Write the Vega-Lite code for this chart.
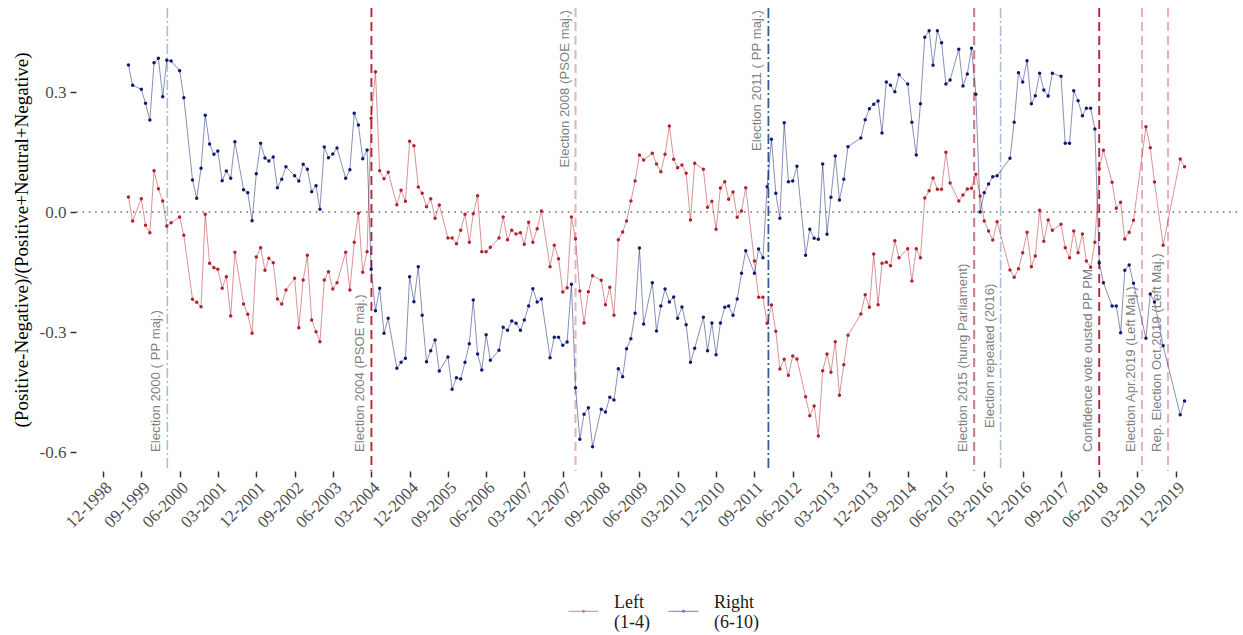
{
"$schema": "https://vega.github.io/schema/vega-lite/v6.json",
"width": 1161,
"height": 463,
"autosize": {"type": "none"},
"padding": {"left": 76, "top": 8, "right": 6, "bottom": 164},
"background": "white",
"config": {"view": {"stroke": null}, "font": "Liberation Serif"},
"datasets": {
"events": [
{"date": "2000-03-05", "label": "Election 2000  ( PP  maj.)", "style": "ppLight", "pos": "bottom"},
{"date": "2004-03-03", "label": "Election 2004 (PSOE maj.)", "style": "psoeDark", "pos": "bottom"},
{"date": "2008-03-01", "label": "Election 2008  (PSOE maj.)", "style": "psoeLight", "pos": "top"},
{"date": "2011-12-10", "label": "Election 2011  ( PP  maj.)", "style": "ppDark", "pos": "top"},
{"date": "2015-12-20", "label": "Election 2015 (hung Parliament)", "style": "hung", "pos": "bottom"},
{"date": "2016-06-26", "label": "Election repeated (2016)", "style": "ppLight", "pos": "mid"},
{"date": "2018-06-01", "label": "Confidence vote ousted PP PM", "style": "psoeDark", "pos": "bottom"},
{"date": "2019-04-03", "label": "Election Apr.2019 (Left Maj.)", "style": "psoeLight", "pos": "bottom"},
{"date": "2019-10-06", "label": "Rep. Election Oct.2019 (Left Maj.)", "style": "psoeLight", "pos": "bottom"}
],
"sent": [
{"date":"1999-06-01","party":"Left","value":0.0375},{"date":"1999-06-01","party":"Right","value":0.3675},
{"date":"1999-07-01","party":"Left","value":-0.0225},{"date":"1999-07-01","party":"Right","value":0.3167},
{"date":"1999-09-01","party":"Left","value":0.0333},{"date":"1999-09-01","party":"Right","value":0.3067},
{"date":"1999-10-01","party":"Left","value":-0.0333},{"date":"1999-10-01","party":"Right","value":0.2717},
{"date":"1999-11-01","party":"Left","value":-0.0517},{"date":"1999-11-01","party":"Right","value":0.23},
{"date":"1999-12-01","party":"Left","value":0.1033},{"date":"1999-12-01","party":"Right","value":0.3733},
{"date":"2000-01-01","party":"Left","value":0.0583},{"date":"2000-01-01","party":"Right","value":0.3842},
{"date":"2000-02-01","party":"Left","value":0.0275},{"date":"2000-02-01","party":"Right","value":0.2883},
{"date":"2000-03-01","party":"Left","value":-0.035},{"date":"2000-03-01","party":"Right","value":0.3792},
{"date":"2000-04-01","party":"Left","value":-0.0267},{"date":"2000-04-01","party":"Right","value":0.3775},
{"date":"2000-06-01","party":"Left","value":-0.0125},{"date":"2000-06-01","party":"Right","value":0.3533},
{"date":"2000-07-01","party":"Left","value":-0.0583},{"date":"2000-07-01","party":"Right","value":0.2858},
{"date":"2000-09-01","party":"Left","value":-0.2183},{"date":"2000-09-01","party":"Right","value":0.08},
{"date":"2000-10-01","party":"Left","value":-0.2258},{"date":"2000-10-01","party":"Right","value":0.0342},
{"date":"2000-11-01","party":"Left","value":-0.2367},{"date":"2000-11-01","party":"Right","value":0.1092},
{"date":"2000-12-01","party":"Left","value":-0.0058},{"date":"2000-12-01","party":"Right","value":0.2417},
{"date":"2001-01-01","party":"Left","value":-0.1283},{"date":"2001-01-01","party":"Right","value":0.17},
{"date":"2001-02-01","party":"Left","value":-0.1392},{"date":"2001-02-01","party":"Right","value":0.1442},
{"date":"2001-03-01","party":"Left","value":-0.1433},{"date":"2001-03-01","party":"Right","value":0.1525},
{"date":"2001-04-01","party":"Left","value":-0.1908},{"date":"2001-04-01","party":"Right","value":0.0783},
{"date":"2001-05-01","party":"Left","value":-0.1617},{"date":"2001-05-01","party":"Right","value":0.1025},
{"date":"2001-06-01","party":"Left","value":-0.26},{"date":"2001-06-01","party":"Right","value":0.0842},
{"date":"2001-07-01","party":"Left","value":-0.1008},{"date":"2001-07-01","party":"Right","value":0.1758},
{"date":"2001-09-01","party":"Left","value":-0.23},{"date":"2001-09-01","party":"Right","value":0.0558},
{"date":"2001-10-01","party":"Left","value":-0.2558},{"date":"2001-10-01","party":"Right","value":0.0483},
{"date":"2001-11-01","party":"Left","value":-0.3033},{"date":"2001-11-01","party":"Right","value":-0.0217},
{"date":"2001-12-01","party":"Left","value":-0.1125},{"date":"2001-12-01","party":"Right","value":0.0958},
{"date":"2002-01-01","party":"Left","value":-0.0892},{"date":"2002-01-01","party":"Right","value":0.1717},
{"date":"2002-02-01","party":"Left","value":-0.1458},{"date":"2002-02-01","party":"Right","value":0.135},
{"date":"2002-03-01","party":"Left","value":-0.1158},{"date":"2002-03-01","party":"Right","value":0.1275},
{"date":"2002-04-01","party":"Left","value":-0.1267},{"date":"2002-04-01","party":"Right","value":0.1375},
{"date":"2002-05-01","party":"Left","value":-0.2175},{"date":"2002-05-01","party":"Right","value":0.0608},
{"date":"2002-06-01","party":"Left","value":-0.23},{"date":"2002-06-01","party":"Right","value":0.0817},
{"date":"2002-07-01","party":"Left","value":-0.195},{"date":"2002-07-01","party":"Right","value":0.1133},
{"date":"2002-09-01","party":"Left","value":-0.1658},{"date":"2002-09-01","party":"Right","value":0.0908},
{"date":"2002-10-01","party":"Left","value":-0.2892},{"date":"2002-10-01","party":"Right","value":0.0775},
{"date":"2002-11-01","party":"Left","value":-0.17},{"date":"2002-11-01","party":"Right","value":0.1192},
{"date":"2002-12-01","party":"Left","value":-0.1083},{"date":"2002-12-01","party":"Right","value":0.1067},
{"date":"2003-01-01","party":"Left","value":-0.27},{"date":"2003-01-01","party":"Right","value":0.0508},
{"date":"2003-02-01","party":"Left","value":-0.2992},{"date":"2003-02-01","party":"Right","value":0.0658},
{"date":"2003-03-01","party":"Left","value":-0.3242},{"date":"2003-03-01","party":"Right","value":0.0067},
{"date":"2003-04-01","party":"Left","value":-0.17},{"date":"2003-04-01","party":"Right","value":0.1625},
{"date":"2003-05-01","party":"Left","value":-0.1492},{"date":"2003-05-01","party":"Right","value":0.1358},
{"date":"2003-06-01","party":"Left","value":-0.1925},{"date":"2003-06-01","party":"Right","value":0.145},
{"date":"2003-07-01","party":"Left","value":-0.1767},{"date":"2003-07-01","party":"Right","value":0.16},
{"date":"2003-09-01","party":"Left","value":-0.1008},{"date":"2003-09-01","party":"Right","value":0.0842},
{"date":"2003-10-01","party":"Left","value":-0.195},{"date":"2003-10-01","party":"Right","value":0.1058},
{"date":"2003-11-01","party":"Left","value":-0.0758},{"date":"2003-11-01","party":"Right","value":0.2467},
{"date":"2003-12-01","party":"Left","value":-0.0033},{"date":"2003-12-01","party":"Right","value":0.2175},
{"date":"2004-01-01","party":"Left","value":-0.1508},{"date":"2004-01-01","party":"Right","value":0.1333},
{"date":"2004-02-01","party":"Left","value":-0.0992},{"date":"2004-02-01","party":"Right","value":0.155},
{"date":"2004-03-01","party":"Left","value":0.2342},{"date":"2004-03-01","party":"Right","value":-0.1433},
{"date":"2004-04-01","party":"Left","value":0.3508},{"date":"2004-04-01","party":"Right","value":-0.2467},
{"date":"2004-05-01","party":"Left","value":0.1033},{"date":"2004-05-01","party":"Right","value":-0.1908},
{"date":"2004-06-01","party":"Left","value":0.0833},{"date":"2004-06-01","party":"Right","value":-0.3033},
{"date":"2004-07-01","party":"Left","value":0.0992},{"date":"2004-07-01","party":"Right","value":-0.2658},
{"date":"2004-09-01","party":"Left","value":0.0183},{"date":"2004-09-01","party":"Right","value":-0.3908},
{"date":"2004-10-01","party":"Left","value":0.0542},{"date":"2004-10-01","party":"Right","value":-0.3758},
{"date":"2004-11-01","party":"Left","value":0.0267},{"date":"2004-11-01","party":"Right","value":-0.3658},
{"date":"2004-12-01","party":"Left","value":0.1767},{"date":"2004-12-01","party":"Right","value":-0.1617},
{"date":"2005-01-01","party":"Left","value":0.1658},{"date":"2005-01-01","party":"Right","value":-0.2242},
{"date":"2005-02-01","party":"Left","value":0.0625},{"date":"2005-02-01","party":"Right","value":-0.1367},
{"date":"2005-03-01","party":"Left","value":0.0467},{"date":"2005-03-01","party":"Right","value":-0.2583},
{"date":"2005-04-01","party":"Left","value":0.0133},{"date":"2005-04-01","party":"Right","value":-0.3742},
{"date":"2005-05-01","party":"Left","value":0.0333},{"date":"2005-05-01","party":"Right","value":-0.3467},
{"date":"2005-06-01","party":"Left","value":-0.0158},{"date":"2005-06-01","party":"Right","value":-0.32},
{"date":"2005-07-01","party":"Left","value":0.0175},{"date":"2005-07-01","party":"Right","value":-0.3975},
{"date":"2005-09-01","party":"Left","value":-0.065},{"date":"2005-09-01","party":"Right","value":-0.3625},
{"date":"2005-10-01","party":"Left","value":-0.065},{"date":"2005-10-01","party":"Right","value":-0.4433},
{"date":"2005-11-01","party":"Left","value":-0.0792},{"date":"2005-11-01","party":"Right","value":-0.4142},
{"date":"2005-12-01","party":"Left","value":-0.0458},{"date":"2005-12-01","party":"Right","value":-0.4175},
{"date":"2006-01-01","party":"Left","value":-0.0058},{"date":"2006-01-01","party":"Right","value":-0.3758},
{"date":"2006-02-01","party":"Left","value":-0.0758},{"date":"2006-02-01","party":"Right","value":-0.3292},
{"date":"2006-03-01","party":"Left","value":-0.0042},{"date":"2006-03-01","party":"Right","value":-0.22},
{"date":"2006-04-01","party":"Left","value":0.0408},{"date":"2006-04-01","party":"Right","value":-0.355},
{"date":"2006-05-01","party":"Left","value":-0.0992},{"date":"2006-05-01","party":"Right","value":-0.395},
{"date":"2006-06-01","party":"Left","value":-0.0992},{"date":"2006-06-01","party":"Right","value":-0.3067},
{"date":"2006-07-01","party":"Left","value":-0.0883},{"date":"2006-07-01","party":"Right","value":-0.3708},
{"date":"2006-09-01","party":"Left","value":-0.065},{"date":"2006-09-01","party":"Right","value":-0.3458},
{"date":"2006-10-01","party":"Left","value":-0.0125},{"date":"2006-10-01","party":"Right","value":-0.2883},
{"date":"2006-11-01","party":"Left","value":-0.0692},{"date":"2006-11-01","party":"Right","value":-0.2958},
{"date":"2006-12-01","party":"Left","value":-0.0458},{"date":"2006-12-01","party":"Right","value":-0.2725},
{"date":"2007-01-01","party":"Left","value":-0.055},{"date":"2007-01-01","party":"Right","value":-0.2783},
{"date":"2007-02-01","party":"Left","value":-0.0517},{"date":"2007-02-01","party":"Right","value":-0.2958},
{"date":"2007-03-01","party":"Left","value":-0.0808},{"date":"2007-03-01","party":"Right","value":-0.27},
{"date":"2007-04-01","party":"Left","value":-0.0258},{"date":"2007-04-01","party":"Right","value":-0.235},
{"date":"2007-05-01","party":"Left","value":-0.0758},{"date":"2007-05-01","party":"Right","value":-0.1917},
{"date":"2007-06-01","party":"Left","value":-0.0417},{"date":"2007-06-01","party":"Right","value":-0.225},
{"date":"2007-07-01","party":"Left","value":0.0025},{"date":"2007-07-01","party":"Right","value":-0.2175},
{"date":"2007-09-01","party":"Left","value":-0.1367},{"date":"2007-09-01","party":"Right","value":-0.3642},
{"date":"2007-10-01","party":"Left","value":-0.0833},{"date":"2007-10-01","party":"Right","value":-0.3133},
{"date":"2007-11-01","party":"Left","value":-0.1167},{"date":"2007-11-01","party":"Right","value":-0.3133},
{"date":"2007-12-01","party":"Left","value":-0.2},{"date":"2007-12-01","party":"Right","value":-0.3333},
{"date":"2008-01-01","party":"Left","value":-0.1892},{"date":"2008-01-01","party":"Right","value":-0.325},
{"date":"2008-02-01","party":"Left","value":-0.0125},{"date":"2008-02-01","party":"Right","value":-0.1808},
{"date":"2008-03-01","party":"Left","value":-0.0667},{"date":"2008-03-01","party":"Right","value":-0.4392},
{"date":"2008-04-01","party":"Left","value":-0.1975},{"date":"2008-04-01","party":"Right","value":-0.5683},
{"date":"2008-05-01","party":"Left","value":-0.2775},{"date":"2008-05-01","party":"Right","value":-0.5058},
{"date":"2008-06-01","party":"Left","value":-0.1992},{"date":"2008-06-01","party":"Right","value":-0.4892},
{"date":"2008-07-01","party":"Left","value":-0.1592},{"date":"2008-07-01","party":"Right","value":-0.5867},
{"date":"2008-09-01","party":"Left","value":-0.1708},{"date":"2008-09-01","party":"Right","value":-0.4933},
{"date":"2008-10-01","party":"Left","value":-0.2317},{"date":"2008-10-01","party":"Right","value":-0.5},
{"date":"2008-11-01","party":"Left","value":-0.1883},{"date":"2008-11-01","party":"Right","value":-0.4633},
{"date":"2008-12-01","party":"Left","value":-0.2583},{"date":"2008-12-01","party":"Right","value":-0.47},
{"date":"2009-01-01","party":"Left","value":-0.0692},{"date":"2009-01-01","party":"Right","value":-0.3917},
{"date":"2009-02-01","party":"Left","value":-0.05},{"date":"2009-02-01","party":"Right","value":-0.4117},
{"date":"2009-03-01","party":"Left","value":-0.0225},{"date":"2009-03-01","party":"Right","value":-0.3417},
{"date":"2009-04-01","party":"Left","value":0.0275},{"date":"2009-04-01","party":"Right","value":-0.3167},
{"date":"2009-05-01","party":"Left","value":0.0775},{"date":"2009-05-01","party":"Right","value":-0.2533},
{"date":"2009-06-01","party":"Left","value":0.1425},{"date":"2009-06-01","party":"Right","value":-0.09},
{"date":"2009-07-01","party":"Left","value":0.13},{"date":"2009-07-01","party":"Right","value":-0.28},
{"date":"2009-09-01","party":"Left","value":0.1467},{"date":"2009-09-01","party":"Right","value":-0.1767},
{"date":"2009-10-01","party":"Left","value":0.12},{"date":"2009-10-01","party":"Right","value":-0.2975},
{"date":"2009-11-01","party":"Left","value":0.1008},{"date":"2009-11-01","party":"Right","value":-0.235},
{"date":"2009-12-01","party":"Left","value":0.1442},{"date":"2009-12-01","party":"Right","value":-0.1925},
{"date":"2010-01-01","party":"Left","value":0.215},{"date":"2010-01-01","party":"Right","value":-0.225},
{"date":"2010-02-01","party":"Left","value":0.1317},{"date":"2010-02-01","party":"Right","value":-0.2125},
{"date":"2010-03-01","party":"Left","value":0.1108},{"date":"2010-03-01","party":"Right","value":-0.2658},
{"date":"2010-04-01","party":"Left","value":0.1175},{"date":"2010-04-01","party":"Right","value":-0.2375},
{"date":"2010-05-01","party":"Left","value":0.0967},{"date":"2010-05-01","party":"Right","value":-0.2817},
{"date":"2010-06-01","party":"Left","value":-0.02},{"date":"2010-06-01","party":"Right","value":-0.3758},
{"date":"2010-07-01","party":"Left","value":0.1217},{"date":"2010-07-01","party":"Right","value":-0.3408},
{"date":"2010-09-01","party":"Left","value":0.1067},{"date":"2010-09-01","party":"Right","value":-0.2633},
{"date":"2010-10-01","party":"Left","value":0.0117},{"date":"2010-10-01","party":"Right","value":-0.3467},
{"date":"2010-11-01","party":"Left","value":0.0267},{"date":"2010-11-01","party":"Right","value":-0.2775},
{"date":"2010-12-01","party":"Left","value":-0.0433},{"date":"2010-12-01","party":"Right","value":-0.3567},
{"date":"2011-01-01","party":"Left","value":0.06},{"date":"2011-01-01","party":"Right","value":-0.2775},
{"date":"2011-02-01","party":"Left","value":0.0758},{"date":"2011-02-01","party":"Right","value":-0.2383},
{"date":"2011-03-01","party":"Left","value":0.0317},{"date":"2011-03-01","party":"Right","value":-0.235},
{"date":"2011-04-01","party":"Left","value":0.05},{"date":"2011-04-01","party":"Right","value":-0.2583},
{"date":"2011-05-01","party":"Left","value":-0.0133},{"date":"2011-05-01","party":"Right","value":-0.2175},
{"date":"2011-06-01","party":"Left","value":0.0025},{"date":"2011-06-01","party":"Right","value":-0.1533},
{"date":"2011-07-01","party":"Left","value":0.0608},{"date":"2011-07-01","party":"Right","value":-0.0967},
{"date":"2011-09-01","party":"Left","value":-0.1225},{"date":"2011-09-01","party":"Right","value":-0.1533},
{"date":"2011-10-01","party":"Left","value":-0.2133},{"date":"2011-10-01","party":"Right","value":-0.0925},
{"date":"2011-11-01","party":"Left","value":-0.2133},{"date":"2011-11-01","party":"Right","value":-0.1142},
{"date":"2011-12-01","party":"Left","value":-0.2783},{"date":"2011-12-01","party":"Right","value":0.0633},
{"date":"2012-01-01","party":"Left","value":-0.2325},{"date":"2012-01-01","party":"Right","value":0.1817},
{"date":"2012-02-01","party":"Left","value":-0.2983},{"date":"2012-02-01","party":"Right","value":0.0467},
{"date":"2012-03-01","party":"Left","value":-0.3925},{"date":"2012-03-01","party":"Right","value":-0.0158},
{"date":"2012-04-01","party":"Left","value":-0.3683},{"date":"2012-04-01","party":"Right","value":0.2233},
{"date":"2012-05-01","party":"Left","value":-0.4083},{"date":"2012-05-01","party":"Right","value":0.0758},
{"date":"2012-06-01","party":"Left","value":-0.36},{"date":"2012-06-01","party":"Right","value":0.0775},
{"date":"2012-07-01","party":"Left","value":-0.3675},{"date":"2012-07-01","party":"Right","value":0.1142},
{"date":"2012-09-01","party":"Left","value":-0.4617},{"date":"2012-09-01","party":"Right","value":-0.1083},
{"date":"2012-10-01","party":"Left","value":-0.5092},{"date":"2012-10-01","party":"Right","value":-0.0433},
{"date":"2012-11-01","party":"Left","value":-0.485},{"date":"2012-11-01","party":"Right","value":-0.0658},
{"date":"2012-12-01","party":"Left","value":-0.56},{"date":"2012-12-01","party":"Right","value":-0.0683},
{"date":"2013-01-01","party":"Left","value":-0.3967},{"date":"2013-01-01","party":"Right","value":0.12},
{"date":"2013-02-01","party":"Left","value":-0.355},{"date":"2013-02-01","party":"Right","value":-0.0558},
{"date":"2013-03-01","party":"Left","value":-0.4008},{"date":"2013-03-01","party":"Right","value":0.0367},
{"date":"2013-04-01","party":"Left","value":-0.3242},{"date":"2013-04-01","party":"Right","value":0.14},
{"date":"2013-05-01","party":"Left","value":-0.4583},{"date":"2013-05-01","party":"Right","value":0.03},
{"date":"2013-06-01","party":"Left","value":-0.3817},{"date":"2013-06-01","party":"Right","value":0.0817},
{"date":"2013-07-01","party":"Left","value":-0.3083},{"date":"2013-07-01","party":"Right","value":0.1633},
{"date":"2013-10-01","party":"Left","value":-0.255},{"date":"2013-10-01","party":"Right","value":0.185},
{"date":"2013-11-01","party":"Left","value":-0.2067},{"date":"2013-11-01","party":"Right","value":0.2308},
{"date":"2013-12-01","party":"Left","value":-0.2383},{"date":"2013-12-01","party":"Right","value":0.2583},
{"date":"2014-01-01","party":"Left","value":-0.105},{"date":"2014-01-01","party":"Right","value":0.2692},
{"date":"2014-02-01","party":"Left","value":-0.2317},{"date":"2014-02-01","party":"Right","value":0.2775},
{"date":"2014-03-01","party":"Left","value":-0.1283},{"date":"2014-03-01","party":"Right","value":0.1975},
{"date":"2014-04-01","party":"Left","value":-0.1258},{"date":"2014-04-01","party":"Right","value":0.325},
{"date":"2014-05-01","party":"Left","value":-0.1342},{"date":"2014-05-01","party":"Right","value":0.3167},
{"date":"2014-06-01","party":"Left","value":-0.0717},{"date":"2014-06-01","party":"Right","value":0.3008},
{"date":"2014-07-01","party":"Left","value":-0.1142},{"date":"2014-07-01","party":"Right","value":0.3433},
{"date":"2014-09-01","party":"Left","value":-0.0917},{"date":"2014-09-01","party":"Right","value":0.32},
{"date":"2014-10-01","party":"Left","value":-0.1725},{"date":"2014-10-01","party":"Right","value":0.2242},
{"date":"2014-11-01","party":"Left","value":-0.0917},{"date":"2014-11-01","party":"Right","value":0.1425},
{"date":"2014-12-01","party":"Left","value":-0.1142},{"date":"2014-12-01","party":"Right","value":0.2708},
{"date":"2015-01-01","party":"Left","value":0.035},{"date":"2015-01-01","party":"Right","value":0.4367},
{"date":"2015-02-01","party":"Left","value":0.0533},{"date":"2015-02-01","party":"Right","value":0.4533},
{"date":"2015-03-01","party":"Left","value":0.085},{"date":"2015-03-01","party":"Right","value":0.3667},
{"date":"2015-04-01","party":"Left","value":0.0567},{"date":"2015-04-01","party":"Right","value":0.4533},
{"date":"2015-05-01","party":"Left","value":0.0567},{"date":"2015-05-01","party":"Right","value":0.4233},
{"date":"2015-06-01","party":"Left","value":0.1492},{"date":"2015-06-01","party":"Right","value":0.32},
{"date":"2015-07-01","party":"Left","value":0.0725},{"date":"2015-07-01","party":"Right","value":0.33},
{"date":"2015-09-01","party":"Left","value":0.0275},{"date":"2015-09-01","party":"Right","value":0.4067},
{"date":"2015-10-01","party":"Left","value":0.0425},{"date":"2015-10-01","party":"Right","value":0.315},
{"date":"2015-11-01","party":"Left","value":0.0575},{"date":"2015-11-01","party":"Right","value":0.345},
{"date":"2015-12-01","party":"Left","value":0.0592},{"date":"2015-12-01","party":"Right","value":0.4092},
{"date":"2016-01-01","party":"Left","value":0.0942},{"date":"2016-01-01","party":"Right","value":0.2942},
{"date":"2016-02-01","party":"Left","value":0.04},{"date":"2016-02-01","party":"Right","value":0.0},
{"date":"2016-03-01","party":"Left","value":-0.0225},{"date":"2016-03-01","party":"Right","value":0.0483},
{"date":"2016-04-01","party":"Left","value":-0.0475},{"date":"2016-04-01","party":"Right","value":0.07},
{"date":"2016-05-01","party":"Left","value":-0.07},{"date":"2016-05-01","party":"Right","value":0.0883},
{"date":"2016-06-01","party":"Left","value":-0.0242},{"date":"2016-06-01","party":"Right","value":0.0908},
{"date":"2016-09-01","party":"Left","value":-0.145},{"date":"2016-09-01","party":"Right","value":0.1342},
{"date":"2016-10-01","party":"Left","value":-0.1633},{"date":"2016-10-01","party":"Right","value":0.2242},
{"date":"2016-11-01","party":"Left","value":-0.1417},{"date":"2016-11-01","party":"Right","value":0.3483},
{"date":"2016-12-01","party":"Left","value":-0.1017},{"date":"2016-12-01","party":"Right","value":0.325},
{"date":"2017-01-01","party":"Left","value":-0.0508},{"date":"2017-01-01","party":"Right","value":0.3783},
{"date":"2017-02-01","party":"Left","value":-0.1367},{"date":"2017-02-01","party":"Right","value":0.2708},
{"date":"2017-03-01","party":"Left","value":-0.11},{"date":"2017-03-01","party":"Right","value":0.2908},
{"date":"2017-04-01","party":"Left","value":0.0042},{"date":"2017-04-01","party":"Right","value":0.3467},
{"date":"2017-05-01","party":"Left","value":-0.0733},{"date":"2017-05-01","party":"Right","value":0.305},
{"date":"2017-06-01","party":"Left","value":-0.02},{"date":"2017-06-01","party":"Right","value":0.29},
{"date":"2017-07-01","party":"Left","value":-0.0458},{"date":"2017-07-01","party":"Right","value":0.3467},
{"date":"2017-09-01","party":"Left","value":-0.0308},{"date":"2017-09-01","party":"Right","value":0.3392},
{"date":"2017-10-01","party":"Left","value":-0.0892},{"date":"2017-10-01","party":"Right","value":0.1717},
{"date":"2017-11-01","party":"Left","value":-0.1142},{"date":"2017-11-01","party":"Right","value":0.1717},
{"date":"2017-12-01","party":"Left","value":-0.0475},{"date":"2017-12-01","party":"Right","value":0.3033},
{"date":"2018-01-01","party":"Left","value":-0.1017},{"date":"2018-01-01","party":"Right","value":0.2783},
{"date":"2018-02-01","party":"Left","value":-0.055},{"date":"2018-02-01","party":"Right","value":0.2408},
{"date":"2018-03-01","party":"Left","value":-0.1225},{"date":"2018-03-01","party":"Right","value":0.2592},
{"date":"2018-04-01","party":"Left","value":-0.1383},{"date":"2018-04-01","party":"Right","value":0.2592},
{"date":"2018-05-01","party":"Left","value":-0.0758},{"date":"2018-05-01","party":"Right","value":0.2075},
{"date":"2018-06-01","party":"Left","value":0.1083},{"date":"2018-06-01","party":"Right","value":-0.1267},
{"date":"2018-07-01","party":"Left","value":0.1542},{"date":"2018-07-01","party":"Right","value":-0.1767},
{"date":"2018-09-01","party":"Left","value":0.0742},{"date":"2018-09-01","party":"Right","value":-0.235},
{"date":"2018-10-01","party":"Left","value":0.0092},{"date":"2018-10-01","party":"Right","value":-0.235},
{"date":"2018-11-01","party":"Left","value":0.0242},{"date":"2018-11-01","party":"Right","value":-0.3017},
{"date":"2018-12-01","party":"Left","value":-0.0675},{"date":"2018-12-01","party":"Right","value":-0.1458},
{"date":"2019-01-01","party":"Left","value":-0.0508},{"date":"2019-01-01","party":"Right","value":-0.1325},
{"date":"2019-02-01","party":"Left","value":-0.0208},{"date":"2019-02-01","party":"Right","value":-0.1783},
{"date":"2019-05-01","party":"Left","value":0.2133},{"date":"2019-05-01","party":"Right","value":-0.3158},
{"date":"2019-06-01","party":"Left","value":0.1608},{"date":"2019-06-01","party":"Right","value":-0.205},
{"date":"2019-07-01","party":"Left","value":0.075},{"date":"2019-07-01","party":"Right","value":-0.225},
{"date":"2019-09-01","party":"Left","value":-0.0833},{"date":"2019-09-01","party":"Right","value":-0.3342},
{"date":"2020-01-01","party":"Left","value":0.1325},{"date":"2020-01-01","party":"Right","value":-0.5067},
{"date":"2020-02-01","party":"Left","value":0.1133},{"date":"2020-02-01","party":"Right","value":-0.4725}
]
},
"layer": [
{
"data": {"values": [{}]},
"mark": {"type": "rule", "stroke": "#666666", "strokeWidth": 1.3, "strokeDash": [1.5, 4.8]},
"encoding": {"y": {"datum": 0, "type": "quantitative", "scale": {"domain": [-0.6475, 0.51], "nice": false, "zero": false}}}
},
{
"data": {"name": "events"},
"mark": {"type": "rule"},
"encoding": {
"x": {"field": "date", "type": "temporal",
"scale": {"type": "utc", "domain": [{"year": 1998, "month": 5, "date": 22, "utc": true}, {"year": 2021, "month": 2, "date": 10, "utc": true}]},
"axis": {"title": null, "format": "%m-%Y", "labelAngle": -45, "labelAlign": "right", "labelBaseline": "top", "labelFont": "Liberation Serif", "labelFontSize": 17, "labelColor": "#4d4d4d", "tickColor": "#333333", "tickWidth": 1.5, "tickSize": 6, "domain": false, "grid": false, "labelPadding": 2, "labelOverlap": false, "labelFlush": false,
"values": [
{"year":1998,"month":12,"date":1,"utc":true},{"year":1999,"month":9,"date":1,"utc":true},{"year":2000,"month":6,"date":1,"utc":true},{"year":2001,"month":3,"date":1,"utc":true},{"year":2001,"month":12,"date":1,"utc":true},{"year":2002,"month":9,"date":1,"utc":true},{"year":2003,"month":6,"date":1,"utc":true},{"year":2004,"month":3,"date":1,"utc":true},{"year":2004,"month":12,"date":1,"utc":true},{"year":2005,"month":9,"date":1,"utc":true},{"year":2006,"month":6,"date":1,"utc":true},{"year":2007,"month":3,"date":1,"utc":true},{"year":2007,"month":12,"date":1,"utc":true},{"year":2008,"month":9,"date":1,"utc":true},{"year":2009,"month":6,"date":1,"utc":true},{"year":2010,"month":3,"date":1,"utc":true},{"year":2010,"month":12,"date":1,"utc":true},{"year":2011,"month":9,"date":1,"utc":true},{"year":2012,"month":6,"date":1,"utc":true},{"year":2013,"month":3,"date":1,"utc":true},{"year":2013,"month":12,"date":1,"utc":true},{"year":2014,"month":9,"date":1,"utc":true},{"year":2015,"month":6,"date":1,"utc":true},{"year":2016,"month":3,"date":1,"utc":true},{"year":2016,"month":12,"date":1,"utc":true},{"year":2017,"month":9,"date":1,"utc":true},{"year":2018,"month":6,"date":1,"utc":true},{"year":2019,"month":3,"date":1,"utc":true},{"year":2019,"month":12,"date":1,"utc":true}
]}},
"stroke": {"field": "style", "type": "nominal", "legend": null, "scale": {"domain": ["ppLight", "ppDark", "psoeDark", "psoeLight", "hung"], "range": ["#a9bfd9", "#2f5b96", "#b0283a", "#e6b3bd", "#c98690"]}},
"strokeDash": {"field": "style", "type": "nominal", "legend": null, "scale": {"domain": ["ppLight", "ppDark", "psoeDark", "psoeLight", "hung"], "range": [[10, 3, 2, 3], [10, 3, 2, 3], [9, 5], [9, 5], [9, 5]]}},
"strokeWidth": {"field": "style", "type": "nominal", "legend": null, "scale": {"domain": ["ppLight", "ppDark", "psoeDark", "psoeLight", "hung"], "range": [1.6, 2.2, 2.2, 2, 2]}}
}
},
{
"data": {"name": "sent"},
"mark": {"type": "line", "strokeWidth": 0.9, "opacity": 0.55},
"encoding": {
"x": {"field": "date", "type": "temporal"},
"y": {"field": "value", "type": "quantitative", "scale": {"domain": [-0.6475, 0.51], "nice": false, "zero": false},
"axis": {"title": "(Positive-Negative)/(Positive+Neutral+Negative)", "values": [-0.6, -0.3, 0, 0.3], "labelExpr": "datum.value < 0 ? '-' + format(-datum.value, '.1f') : format(datum.value, '.1f')", "labelFont": "Liberation Serif", "labelFontSize": 17, "labelColor": "#4d4d4d", "titleFont": "Liberation Serif", "titleFontSize": 19, "titleFontWeight": "normal", "titleColor": "#000000", "titlePadding": 8, "tickColor": "#333333", "tickWidth": 1.5, "tickSize": 6, "domain": false, "grid": false, "labelPadding": 4}},
"color": {"field": "party", "type": "nominal", "scale": {"domain": ["Left", "Right"], "range": ["#b2222a", "#0d1a6e"]},
"legend": {"title": null, "orient": "none", "legendX": 492, "legendY": 579, "direction": "horizontal", "symbolType": "M-1,0.57L1,0.57M0.08,0.57A0.08,0.08,0,1,1,-0.08,0.57A0.08,0.08,0,1,1,0.08,0.57Z", "symbolSize": 900, "symbolStrokeWidth": 1, "labelFont": "Liberation Serif", "labelFontSize": 18, "labelColor": "#1a1a1a", "labelExpr": "datum.label == 'Left' ? ['Left','(1-4)'] : ['Right','(6-10)']", "labelOffset": 15, "columnPadding": 16, "labelBaseline": "middle", "labelLimit": 0}}
}
},
{
"data": {"name": "sent"},
"mark": {"type": "point", "filled": true, "size": 12, "opacity": 1},
"encoding": {
"x": {"field": "date", "type": "temporal"},
"y": {"field": "value", "type": "quantitative"},
"color": {"field": "party", "type": "nominal"}
}
},
{
"data": {"name": "events"},
"transform": [{"filter": "datum.pos == 'bottom'"}],
"mark": {"type": "text", "angle": 270, "align": "left", "baseline": "bottom", "dy": -4, "font": "Liberation Sans", "fontSize": 13.2, "color": "#7f7f7f"},
"encoding": {"x": {"field": "date", "type": "temporal"}, "y": {"datum": -0.6, "type": "quantitative"}, "text": {"field": "label"}}
},
{
"data": {"name": "events"},
"transform": [{"filter": "datum.pos == 'mid'"}],
"mark": {"type": "text", "angle": 270, "align": "left", "baseline": "bottom", "dy": -4, "font": "Liberation Sans", "fontSize": 13.2, "color": "#7f7f7f"},
"encoding": {"x": {"field": "date", "type": "temporal"}, "y": {"datum": -0.54, "type": "quantitative"}, "text": {"field": "label"}}
},
{
"data": {"name": "events"},
"transform": [{"filter": "datum.pos == 'top'"}],
"mark": {"type": "text", "angle": 270, "align": "right", "baseline": "bottom", "dy": -4, "font": "Liberation Sans", "fontSize": 13.2, "color": "#7f7f7f"},
"encoding": {"x": {"field": "date", "type": "temporal"}, "y": {"datum": 0.505, "type": "quantitative"}, "text": {"field": "label"}}
}
]
}
